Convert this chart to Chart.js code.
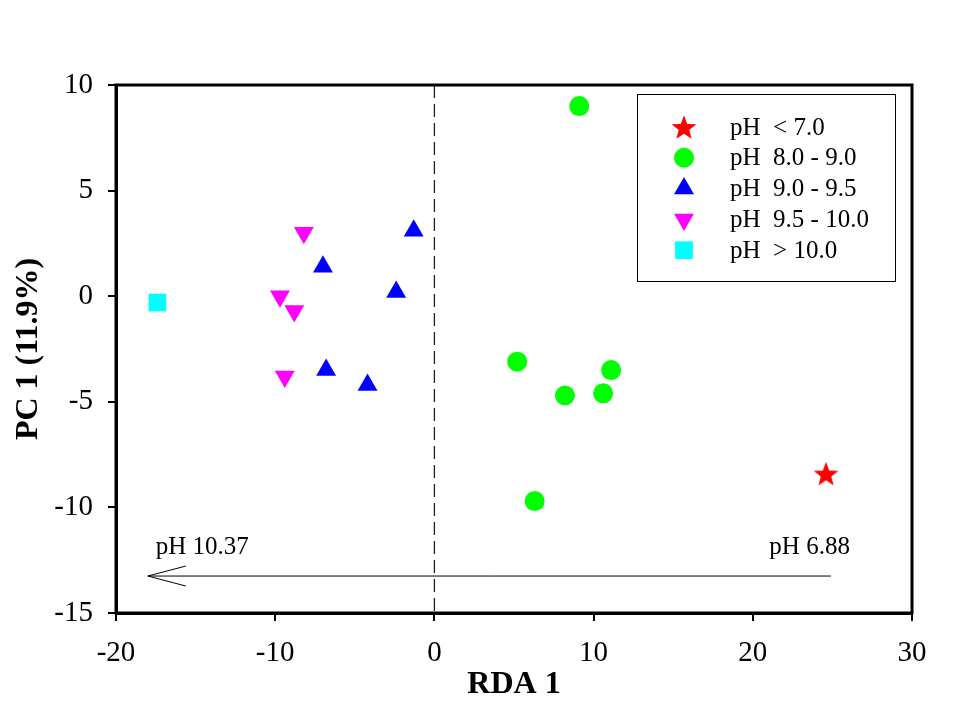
<!DOCTYPE html>
<html>
<head>
<meta charset="utf-8">
<script src="https://cdn.jsdelivr.net/npm/chart.js@4/dist/chart.umd.min.js"></script>
<style>
  html, body { margin: 0; padding: 0; background: #fff; }
  #wrap { width: 960px; height: 720px; }
</style>
</head>
<body>
<div id="wrap"><canvas id="rda"></canvas></div>
<script>
// sample scores (RDA 1, PC 1)
var groupLabels = ['pH  < 7.0', 'pH  8.0 - 9.0', 'pH  9.0 - 9.5', 'pH  9.5 - 10.0', 'pH  > 10.0'];

var lowX = [24.6];
var lowY = [-8.4];
var g89X = [9.1, 5.2, 8.2, 10.6, 11.1, 6.3];
var g89Y = [9.0, -3.1, -4.7, -4.6, -3.5, -9.7];
var g995X = [-1.3, -7.0, -2.4, -6.8, -4.2];
var g995Y = [3.1, 1.4, 0.2, -3.5, -4.2];
var g910X = [-8.2, -9.7, -8.8, -9.4];
var g910Y = [3.0, 0.0, -0.7, -3.8];
var highX = [-17.4];
var highY = [-0.3];

// pH vector
var arrowX = [24.9, -18.0];
var arrowY = [-13.25, -13.25];
var arrowLabels = ['pH 6.88', 'pH 10.37'];

var xTicks = [-20, -10, 0, 10, 20, 30];
var yTicks = [-15, -10, -5, 0, 5, 10];

function pts(xs, ys) {
    var out = [];
    for (var i = 0; i < xs.length; i++) out.push({x: xs[i], y: ys[i]});
    return out;
}

// filled five point star, chart.js 'star' is only strokes
function makeStar(size, colour) {
    var c = document.createElement('canvas');
    c.width = size; c.height = size;
    var ctx = c.getContext('2d');
    var cx = size / 2, cy = size / 2 + size * 0.05, R = size / 2, r = R * 0.42;
    ctx.beginPath();
    for (var k = 0; k < 10; k++) {
        var a = -Math.PI / 2 + k * Math.PI / 5;
        var rr = k % 2 === 0 ? R : r;
        ctx.lineTo(cx + rr * Math.cos(a), cy + rr * Math.sin(a));
    }
    ctx.closePath();
    ctx.fillStyle = colour;
    ctx.fill();
    return c;
}
var starImg = makeStar(26, '#ff0000');

var SERIF = '"Liberation Serif", "Times New Roman", serif';

var datasets = [
    {label: groupLabels[0], data: pts(lowX, lowY), pointStyle: starImg, pointRadius: 13,
     backgroundColor: '#ff0000', borderColor: '#ff0000'},
    {label: groupLabels[1], data: pts(g89X, g89Y), pointStyle: 'circle', pointRadius: 10,
     backgroundColor: '#00ff00', borderColor: '#00ff00', borderWidth: 0},
    {label: groupLabels[2], data: pts(g995X, g995Y), pointStyle: 'triangle', pointRadius: 11.5,
     backgroundColor: '#0000ff', borderColor: '#0000ff', borderWidth: 0},
    {label: groupLabels[3], data: pts(g910X, g910Y), pointStyle: 'triangle', rotation: 180, pointRadius: 11.5,
     backgroundColor: '#ff00ff', borderColor: '#ff00ff', borderWidth: 0},
    {label: groupLabels[4], data: pts(highX, highY), pointStyle: 'rect', pointRadius: 12.5,
     backgroundColor: '#00ffff', borderColor: '#00ffff', borderWidth: 0},
    {label: 'arrow', data: pts(arrowX, arrowY), type: 'line', showLine: true, pointRadius: 0,
     borderColor: '#000', borderWidth: 1, fill: false, isArrow: true}
];

var extras = {
    id: 'extras',
    beforeDatasetsDraw: function(chart) {
        var ctx = chart.ctx, a = chart.chartArea;
        var xs = chart.scales.x;
        var x0 = xs.getPixelForValue(0);
        ctx.save();
        ctx.strokeStyle = '#222';
        ctx.lineWidth = 1.3;
        ctx.setLineDash([13, 6]);
        ctx.beginPath();
        ctx.moveTo(x0, a.top);
        ctx.lineTo(x0, a.bottom);
        ctx.stroke();
        ctx.restore();
    },
    afterDatasetsDraw: function(chart) {
        var ctx = chart.ctx, a = chart.chartArea;
        var xs = chart.scales.x, ys = chart.scales.y;
        ctx.save();

        // arrow head at the high pH end
        var tx = xs.getPixelForValue(arrowX[1]), ty = ys.getPixelForValue(arrowY[1]);
        ctx.strokeStyle = '#000';
        ctx.lineWidth = 1;
        ctx.beginPath();
        ctx.moveTo(tx + 38, ty - 10);
        ctx.lineTo(tx, ty);
        ctx.lineTo(tx + 38, ty + 10);
        ctx.stroke();

        // vector labels
        ctx.fillStyle = '#000';
        ctx.font = '25px ' + SERIF;
        ctx.textBaseline = 'middle';
        ctx.textAlign = 'right';
        ctx.fillText(arrowLabels[0], xs.getPixelForValue(26.1), ys.getPixelForValue(-11.9));
        ctx.textAlign = 'left';
        ctx.fillText(arrowLabels[1], xs.getPixelForValue(-17.5), ys.getPixelForValue(-11.9));

        // frame
        ctx.lineWidth = 3;
        ctx.strokeRect(a.left, a.top, a.right - a.left, a.bottom - a.top);

        // legend box
        var bx = 637, by = 94, bw = 258, bh = 187;
        ctx.fillStyle = '#fff';
        ctx.fillRect(bx, by, bw, bh);
        ctx.lineWidth = 1;
        ctx.strokeRect(bx + 0.5, by + 0.5, bw, bh);
        ctx.font = '25px ' + SERIF;
        ctx.textAlign = 'left';
        ctx.textBaseline = 'middle';
        var rowY = by + 33;
        chart.data.datasets.forEach(function(ds) {
            if (ds.isArrow) return;
            ctx.fillStyle = ds.backgroundColor;
            ctx.strokeStyle = ds.backgroundColor;
            Chart.helpers.drawPoint(ctx, {
                pointStyle: ds.pointStyle,
                rotation: ds.rotation || 0,
                radius: ds.pointRadius,
                borderWidth: 0
            }, bx + 47, rowY);
            ctx.fillStyle = '#000';
            ctx.fillText(ds.label, bx + 93, rowY + 1);
            rowY += 30.8;
        });
        ctx.restore();
    }
};

new Chart(document.getElementById('rda'), {
    type: 'scatter',
    data: {datasets: datasets},
    options: {
        responsive: true,
        maintainAspectRatio: false,
        animation: false,
        layout: {padding: {top: 85, right: 48, left: 6, bottom: 16}},
        plugins: {
            legend: {display: false},
            tooltip: {enabled: false}
        },
        scales: {
            x: {
                type: 'linear', min: -20, max: 30,
                afterFit: function(s) { s.height = 91; },
                afterBuildTicks: function(s) { s.ticks = xTicks.map(function(v) { return {value: v}; }); },
                grid: {drawOnChartArea: false, tickLength: 8, color: '#000', lineWidth: 2},
                border: {display: true, color: '#000', width: 3},
                ticks: {color: '#000', font: {family: SERIF, size: 29}, padding: 15},
                title: {display: true, text: 'RDA 1', color: '#000',
                        font: {family: SERIF, size: 32, weight: 'bold'}, padding: {top: 0, bottom: 0}}
            },
            y: {
                type: 'linear', min: -15, max: 10,
                afterFit: function(s) { s.width = 110; },
                afterBuildTicks: function(s) { s.ticks = yTicks.map(function(v) { return {value: v}; }); },
                grid: {drawOnChartArea: false, tickLength: 8, color: '#000', lineWidth: 2},
                border: {display: true, color: '#000', width: 3},
                ticks: {color: '#000', font: {family: SERIF, size: 29}, padding: 15},
                title: {display: true, text: 'PC 1 (11.9%)', color: '#000',
                        font: {family: SERIF, size: 32, weight: 'bold'}, padding: {bottom: 0}}
            }
        }
    },
    plugins: [extras]
});
</script>
</body>
</html>
